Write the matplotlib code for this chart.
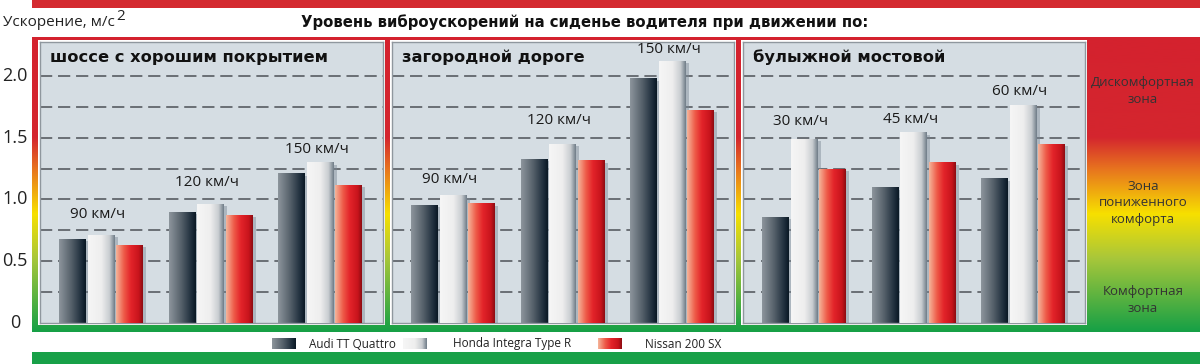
import numpy as np
import matplotlib
matplotlib.use("Agg")
import matplotlib.pyplot as plt
from matplotlib.colors import to_rgb
from matplotlib.patches import Rectangle
from matplotlib.transforms import blended_transform_factory
from matplotlib import font_manager

# ---------------- data ----------------
cars = ["Audi TT Quattro", "Honda Integra Type R", "Nissan 200 SX"]
panel_titles = ["шоссе с хорошим покрытием", "загородной дороге", "булыжной мостовой"]
speeds = [["90 км/ч", "120 км/ч", "150 км/ч"],
          ["90 км/ч", "120 км/ч", "150 км/ч"],
          ["30 км/ч", "45 км/ч", "60 км/ч"]]
audi = [[0.68, 0.90, 1.21], [0.955, 1.33, 1.98], [0.86, 1.10, 1.17]]
honda = [[0.715, 0.965, 1.30], [1.035, 1.45, 2.12], [1.49, 1.545, 1.76]]
nissan = [[0.635, 0.875, 1.12], [0.97, 1.315, 1.725], [1.25, 1.30, 1.45]]
ytick_values = [0, 0.5, 1.0, 1.5, 2.0]
ytick_labels = ["0", "0.5", "1.0", "1.5", "2.0"]
zones = ["Дискомфортная\nзона", "Зона\nпониженного\nкомфорта", "Комфортная\nзона"]
title = "Уровень виброускорений на сиденье водителя при движении по:"
ylabel_base = "Ускорение, м/с"
ylabel_sup = "2"

# label heights (positions, data units)
label_y = [[0.88, 1.14, 1.40], [1.16, 1.64, 2.21], [1.63, 1.645, 1.875]]

W, H = 1200, 364
fig = plt.figure(figsize=(W / 100, H / 100), dpi=100)
fig.patch.set_facecolor("white")

installed = {f.name for f in font_manager.fontManager.ttflist}
NARROW = ["Liberation Sans Narrow"] if "Liberation Sans Narrow" in installed else []
REG = ["Open Sans", "DejaVu Sans"]
COND = NARROW + ["Open Sans", "DejaVu Sans"]
BOLD = ["DejaVu Sans"]


def grad_img(stops, n=128, vertical=False):
    pos = np.array([s[0] for s in stops])
    cols = np.array([to_rgb(s[1]) for s in stops])
    t = np.linspace(0, 1, n)
    arr = np.stack([np.interp(t, pos, cols[:, k]) for k in range(3)], axis=-1)
    if vertical:
        return arr[:, None, :]
    return arr[None, :, :]


audi_grad = grad_img([(0, "#8d959c"), (0.45, "#56616b"), (0.85, "#1c2c3a"), (1, "#0a1824")])
honda_grad = grad_img([(0, "#f6f6f6"), (0.5, "#eeeeee"), (0.8, "#c9cdd1"), (1, "#6f7c88")])
nissan_grad = grad_img([(0, "#f5b59a"), (0.3, "#ee5a48"), (0.55, "#e3242a"), (0.85, "#c8141c"), (1, "#8c0c12")])
bar_grads = [audi_grad, honda_grad, nissan_grad]

# ---------------- background layer (pixel coords) ----------------
bg = fig.add_axes([0, 0, 1, 1])
bg.set_xlim(0, W)
bg.set_ylim(H, 0)
bg.axis("off")

bg.add_patch(Rectangle((32, 0), W - 32, 8, color="#d42a30", lw=0))
bg.add_patch(Rectangle((32, 352), W - 32, 12, color="#18a048", lw=0))

frame_grad = grad_img([(0, "#d4222e"), (0.34, "#d4262e"), (0.45, "#e8761e"),
                       (0.6, "#f7e000"), (0.75, "#a9c73a"), (1, "#16a046")],
                      n=256, vertical=True)
bg.imshow(frame_grad, extent=(32, W, 332, 37), aspect="auto", interpolation="bilinear")
bg.set_xlim(0, W)
bg.set_ylim(H, 0)

yl = bg.text(3, 23, ylabel_base, fontsize=11, family=COND, color="#222222",
             va="center", ha="left")
renderer = fig.canvas.get_renderer()
ext = yl.get_window_extent(renderer)
bg.text(ext.x1 / fig.dpi * 100 + 1, 17, ylabel_sup, fontsize=11, family=COND,
        color="#222222", va="center", ha="left")

bg.text(301, 22, title, fontsize=10.7, family=BOLD, fontweight="bold", color="#111111",
        va="center", ha="left")

zone_y = [91, 203, 300]
for z, zy in zip(zones, zone_y):
    bg.text(1143, zy, z, fontsize=9.5, family=COND, color="#333333", ha="center", va="center",
            linespacing=1.4)

# legend
sw_x = [272, 403, 598]
tx_x = [309, 453, 645]
for g, sx, tx, name in zip(bar_grads, sw_x, tx_x, cars):
    bg.imshow(g, extent=(sx, sx + 24, 349, 338), aspect="auto", interpolation="bilinear")
    bg.text(tx, 344, name, fontsize=10 if NARROW else 8.5, family=COND, color="#222222",
            va="center", ha="left")
bg.set_xlim(0, W)
bg.set_ylim(H, 0)

# ---------------- panels ----------------
panels_px = [(40, 383), (392, 734), (743, 1085)]
top_px, bot_px = 42, 323
px_per_unit_y = 123.6
ymax = (bot_px - top_px) / px_per_unit_y
px_per_unit_x = 109.5
x_left = -61 / px_per_unit_x

for (l, r) in panels_px:
    bg.add_patch(Rectangle((l - 2, top_px - 2), r - l + 4, bot_px - top_px + 4,
                           color="white", lw=0))

bw = 0.24
offs = [-0.26, 0.0, 0.26]
xg = np.arange(3)
axes = []
for p, (l, r) in enumerate(panels_px):
    ax = fig.add_axes([l / W, (H - bot_px) / H, (r - l) / W, (bot_px - top_px) / H])
    axes.append(ax)
    ax.set_facecolor("#d5dde3")
    for s in ax.spines.values():
        s.set_color("#8f979e")
        s.set_linewidth(1.0)
    ax.set_xticks([])
    ax.set_yticks([])
    ax.hlines(np.arange(0.25, 2.01, 0.25), x_left, x_left + (r - l) / px_per_unit_x,
              colors="#4c5157", linewidth=1.1, linestyles=(0, (8, 3.8)), zorder=0.5)
    for k, series in enumerate([audi, honda, nissan]):
        bars = ax.bar(xg + offs[k], series[p], width=bw, color="none", edgecolor="none", zorder=2)
        for b in bars:
            x0, y0 = b.get_x(), b.get_y()
            ww, hh = b.get_width(), b.get_height()
            ax.add_patch(Rectangle((x0 + ww, y0), 0.035, hh - 0.02, color="#7a8894",
                                   alpha=0.45, lw=0, zorder=1.5 + k))
            im = ax.imshow(bar_grads[k], extent=(x0, x0 + ww, y0, y0 + hh), aspect="auto",
                           interpolation="bilinear", zorder=2 + k)
            im.set_clip_path(b)
    for g in range(3):
        ax.text(xg[g] - 0.03, label_y[p][g], speeds[p][g], fontsize=11, family=REG,
                color="#1a1a1a", ha="center", va="center", zorder=6)
    ax.text(0.03, 0.945, panel_titles[p], transform=ax.transAxes, fontsize=11.7,
            family=BOLD, fontweight="bold", color="#111111", ha="left", va="center", zorder=6)
    ax.set_xlim(x_left, x_left + (r - l) / px_per_unit_x)
    ax.set_ylim(0, ymax)

tr = blended_transform_factory(fig.transFigure, axes[0].transData)
for v, lab in zip(ytick_values, ytick_labels):
    axes[0].text(15 / W, v, lab, transform=tr, fontsize=13, family=REG, color="#222222",
                 ha="center", va="center", clip_on=False)

fig.savefig("out.png", dpi=100, facecolor="white")
